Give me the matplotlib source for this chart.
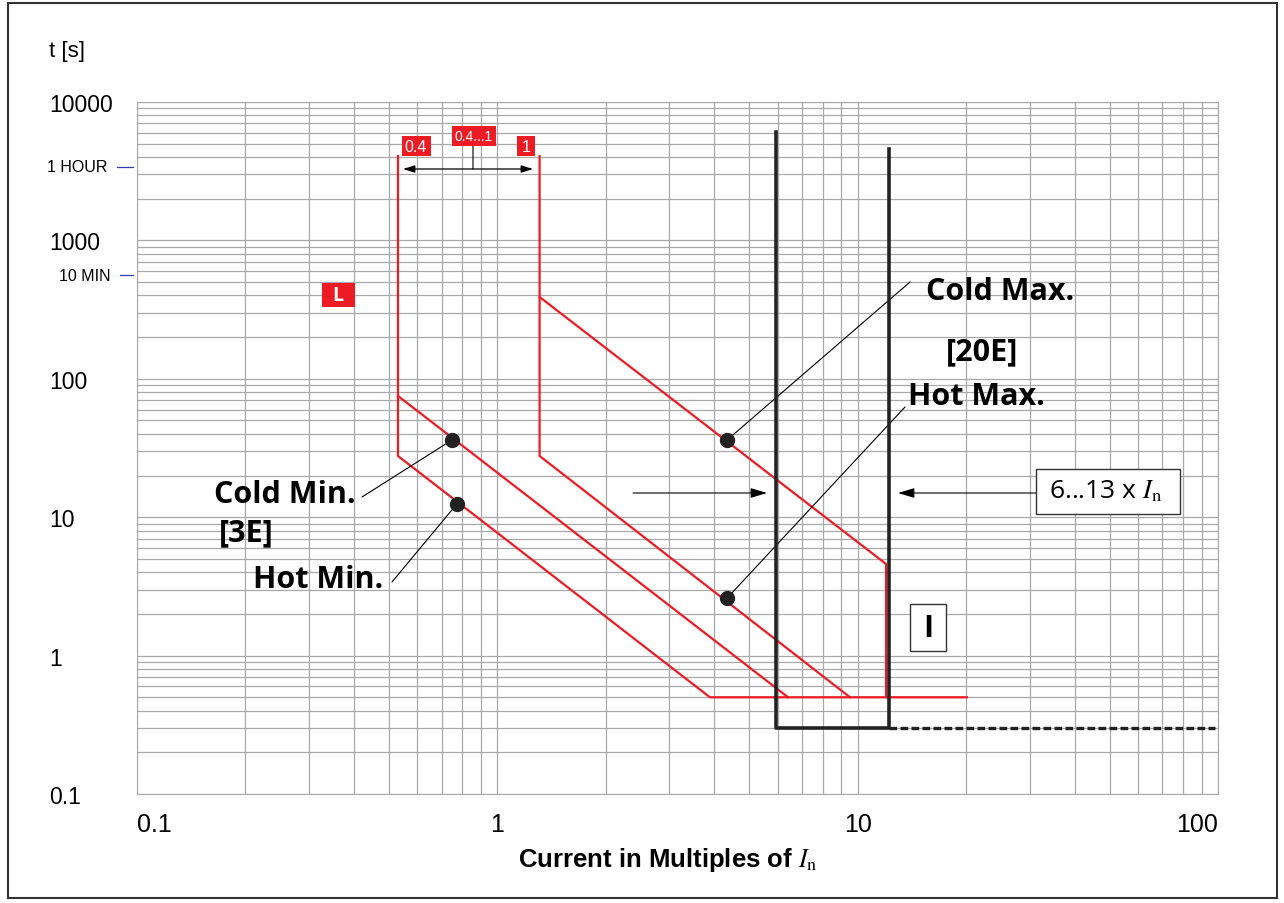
import matplotlib.pyplot as plt
from matplotlib.patches import Rectangle
from matplotlib.ticker import NullFormatter

plt.rcParams['mathtext.fontset'] = 'stix'
plt.rcParams['font.family'] = ['Liberation Sans', 'DejaVu Sans']

RED = '#ed1c24'
GRID = '#a9a9a9'
W, H = 1284, 904

# red tripping curves: current in multiples of In, time in s
hot_min_x = [0.53, 0.53, 3.89, 20.1]
hot_min_t = [4070, 27.7, 0.5, 0.5]
cold_min_x = [0.53, 6.41]
cold_min_t = [75.2, 0.5]
hot_max_x = [1.31, 1.31, 9.52]
hot_max_t = [4070, 27.7, 0.5]
cold_max_x = [1.31, 11.99, 11.99]
cold_max_t = [390, 4.59, 0.5]

# instantaneous band (black)
inst_x = [5.93, 5.93, 12.2, 12.2]
inst_t = [6070, 0.3, 0.3, 4570]
tail_x = [12.2, 98]
tail_t = [0.3, 0.3]

# marked points (cold min, hot min, cold max, hot max)
dot_x = [0.748, 0.773, 4.34, 4.34]
dot_t = [36.1, 12.5, 36.1, 2.6]

x_ticks = [0.1, 1, 10, 100]
x_labels = ['0.1', '1', '10', '100']
y_ticks = [0.1, 1, 10, 100, 1000, 10000]
y_labels = ['0.1', '1', '10', '100', '1000', '10000']
time_marks = [3400, 560]
time_names = ['1 HOUR', '10 MIN']


def fxy(px, py):
    # pixel position -> figure fraction
    return (px / W, 1 - py / H)


def box(fig, px0, py0, px1, py1, fc='white', ec='#333333', lw=1.0):
    x0, y1 = fxy(px0, py0)
    x1, y0 = fxy(px1, py1)
    fig.add_artist(Rectangle((x0, y0), x1 - x0, y1 - y0, transform=fig.transFigure,
                             facecolor=fc, edgecolor=ec, linewidth=lw, zorder=5))


def label(fig, px, py, s, **kw):
    x, y = fxy(px, py)
    fig.text(x, y, s, ha='center', va='center', zorder=6, **kw)


def line(ax, p0, p1, style='-', lw=0.8):
    ax.annotate('', xy=fxy(*p1), xycoords='figure fraction',
                xytext=fxy(*p0), textcoords='figure fraction',
                arrowprops=dict(arrowstyle=style, lw=lw, color='black',
                                shrinkA=0, shrinkB=0), zorder=6)


def main():
    fig = plt.figure(figsize=(12.84, 9.04), dpi=100)
    ax = fig.add_axes([137 / W, 1 - 795 / H, (1218 - 137) / W, (795 - 103) / H])
    ax.set_xscale('log')
    ax.set_yscale('log')
    ax.set_xlim(0.1, 100)
    ax.set_ylim(0.1, 10000)
    ax.grid(which='both', color=GRID, lw=0.9)
    for sp in ax.spines.values():
        sp.set_color(GRID)
    ax.set_xticks(x_ticks, labels=x_labels)
    ax.set_yticks(y_ticks, labels=y_labels)
    ax.xaxis.set_minor_formatter(NullFormatter())
    ax.yaxis.set_minor_formatter(NullFormatter())
    ax.tick_params(which='both', length=0)
    ax.tick_params(axis='x', labelsize=18, pad=13)
    ax.tick_params(axis='y', labelsize=16.5, pad=63)
    for t in ax.get_yticklabels():
        t.set_horizontalalignment('left')
    xl = ax.get_xticklabels()
    xl[0].set_horizontalalignment('left')
    xl[-1].set_horizontalalignment('right')

    # curves
    for xs, ts in [(hot_min_x, hot_min_t), (cold_min_x, cold_min_t),
                   (hot_max_x, hot_max_t), (cold_max_x, cold_max_t)]:
        ax.plot(xs, ts, color=RED, lw=1.6, zorder=3)
    ax.plot(inst_x, inst_t, color='#222222', lw=2.6, zorder=4)
    ax.plot(tail_x, tail_t, color='#222222', lw=2.4, ls=(0, (2.3, 1.0)), zorder=4)
    ax.plot(dot_x, dot_t, 'o', color='#222222', ms=10, zorder=7)

    # 1 hour / 10 min marks
    tr = ax.get_yaxis_transform()
    for t, name, x0 in zip(time_marks, time_names, [-0.0185, -0.0157]):
        ax.plot([x0, -0.0037], [t, t], color='#2f3fb0', lw=0.9, transform=tr, clip_on=False)
        ax.text(x0 - 0.009, t, name, transform=tr, ha='right', va='center', fontsize=11.5)

    # axis titles
    label(fig, 67, 52, 't [s]', fontsize=16)
    label(fig, 668, 860, r'Current in Multiples of $I_{\rm n}$', fontsize=18.5, fontweight='bold')

    # leader lines from dots to the names
    for (dx, dt), end in zip(zip(dot_x, dot_t), [(362, 498), (392, 583), (910, 283), (905, 408)]):
        ax.annotate('', xy=(dx, dt), xycoords='data', xytext=fxy(*end),
                    textcoords='figure fraction',
                    arrowprops=dict(arrowstyle='-', lw=0.8, color='black', shrinkA=0, shrinkB=0))

    bold = dict(family=['Open Sans', 'DejaVu Sans'], fontweight='bold', fontsize=22)
    label(fig, 1000, 292, 'Cold Max.', **bold)
    label(fig, 982, 352, '[20E]', **bold)
    label(fig, 976, 397, 'Hot Max.', **bold)
    label(fig, 285, 495, 'Cold Min.', **bold)
    label(fig, 246, 533, '[3E]', **bold)
    label(fig, 318, 580, 'Hot Min.', **bold)

    # setting range markers
    box(fig, 402, 137, 431, 157, fc=RED, ec='none')
    label(fig, 416, 147, '0.4', color='white', fontsize=11.5)
    box(fig, 452, 127, 496, 147, fc=RED, ec='none')
    label(fig, 474, 137, '0.4...1', color='white', fontsize=10)
    box(fig, 517, 137, 535, 157, fc=RED, ec='none')
    label(fig, 526, 147, '1', color='white', fontsize=11.5)
    box(fig, 322, 284, 355, 308, fc=RED, ec='none')
    label(fig, 338, 296, 'L', color='white', fontsize=14, fontweight='bold',
          family=['Open Sans', 'DejaVu Sans'])
    line(ax, (403, 170), (533, 170), style='<|-|>,head_length=0.7,head_width=0.22', lw=0.9)
    line(ax, (473, 147), (473, 170))

    # instantaneous range
    line(ax, (633, 494), (767, 494), style='-|>,head_length=1.0,head_width=0.3')
    line(ax, (1036, 494), (898, 494), style='-|>,head_length=1.0,head_width=0.3')
    box(fig, 1036, 470, 1180, 515)
    label(fig, 1106, 492, r'6...13 x $I_{\rm n}$', fontsize=19, family=['Open Sans', 'DejaVu Sans'])
    box(fig, 910, 605, 946, 652)
    label(fig, 928, 629, 'I', fontsize=22, fontweight='bold', family=['Open Sans', 'DejaVu Sans'])

    # outer frame
    x0, y1 = fxy(8, 4)
    x1, y0 = fxy(1277, 899)
    fig.add_artist(Rectangle((x0, y0), x1 - x0, y1 - y0, transform=fig.transFigure,
                             fill=False, edgecolor='#333333', linewidth=1.5))

    fig.savefig('out.png', dpi=100)


if __name__ == '__main__':
    main()
